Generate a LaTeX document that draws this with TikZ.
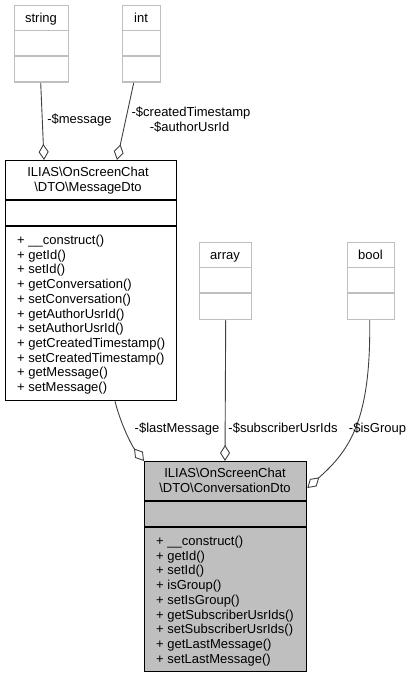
\documentclass[tikz,border=0pt]{standalone}
\usepackage{fontspec}
\setmainfont{Liberation Sans}
\usetikzlibrary{arrows.meta}
\definecolor{typegray}{HTML}{BFBFBF}
\definecolor{linkgray}{HTML}{404040}
\begin{document}
\begin{tikzpicture}[x=1pt,y=-1pt,
	every node/.style={font=\fontsize{13}{14.7}\selectfont, inner sep=0pt},
	typebox/.style={draw=typegray, line width=1.4pt, anchor=north west},
	classbox/.style={draw=black, line width=1.3pt, anchor=north west},
	typerule/.style={draw=typegray, line width=1.4pt},
	classrule/.style={draw=black, line width=1.3pt},
	member/.style={draw=linkgray, line width=0.9pt, -{Diamond[fill=white, length=16pt, width=10pt]}},
	title/.style={anchor=base},
	method/.style={anchor=base west}]
	\useasboundingbox (0,0) rectangle (412,676);

	\node[typebox, minimum width=54pt, minimum height=76.5pt] (string) at (14,5) {};
	\draw[typerule] (14,30.5) -- (68,30.5);
	\draw[typerule] (14,56) -- (68,56);
	\node[title] (stringT) at (41,22.5) {string};

	\node[typebox, minimum width=38pt, minimum height=76.5pt] (int) at (122,5) {};
	\draw[typerule] (122,30.5) -- (160,30.5);
	\draw[typerule] (122,56) -- (160,56);
	\node[title] (intT) at (141,22.5) {int};

	\node[typebox, minimum width=52pt, minimum height=76.5pt] (array) at (199,242) {};
	\draw[typerule] (199,267.5) -- (251,267.5);
	\draw[typerule] (199,293) -- (251,293);
	\node[title] (arrayT) at (225,259) {array};

	\node[typebox, minimum width=47pt, minimum height=76.5pt] (bool) at (347,242) {};
	\draw[typerule] (347,267.5) -- (394,267.5);
	\draw[typerule] (347,293) -- (394,293);
	\node[title] (boolT) at (370.5,259) {bool};

	\node[classbox, minimum width=171pt, minimum height=240pt] (msg) at (5,160) {};
	\draw[classrule] (5,200) -- (176,200);
	\draw[classrule] (5,226) -- (176,226);
	\node[title] (msgT1) at (88,176.5) {ILIAS\textbackslash OnScreenChat};
	\node[title] (msgT2) at (88,191.5) {\textbackslash DTO\textbackslash MessageDto};
	\foreach \m [count=\i from 0] in {\_\_construct, getId, setId, getConversation,
		setConversation, getAuthorUsrId, setAuthorUsrId, getCreatedTimestamp,
		setCreatedTimestamp, getMessage, setMessage}
		\node[method] (msgM\i) at (17,244.5+14.7*\i) {+ \m()};

	\node[classbox, fill=typegray, minimum width=162pt, minimum height=209.5pt] (conv) at (144,461) {};
	\draw[classrule] (144,501) -- (306,501);
	\draw[classrule] (144,527) -- (306,527);
	\node[title] (convT1) at (225,477.5) {ILIAS\textbackslash OnScreenChat};
	\node[title] (convT2) at (225,492.5) {\textbackslash DTO\textbackslash ConversationDto};
	\foreach \m [count=\i from 0] in {\_\_construct, getId, setId, isGroup, setIsGroup,
		getSubscriberUsrIds, setSubscriberUsrIds, getLastMessage, setLastMessage}
		\node[method] (convM\i) at (156,545.5+14.7*\i) {+ \m()};

	\draw[member] ([xshift=-1pt]string.south) -- ([xshift=39pt]msg.north west);
	\draw[member] ([xshift=-8pt]int.south) -- ([xshift=112pt]msg.north west);
	\draw[member] ([xshift=110pt]msg.south west) .. controls (121,425) and (132,446) .. (conv.north west);
	\draw[member] (array.south) -- ([xshift=81pt]conv.north west);
	\draw[member] ([xshift=-1.5pt]bool.south) .. controls (371,420) and (350,450) .. ([yshift=-27pt]conv.north east);

	\node[title] (lblMessage) at (79.5,124) {-\$message};
	\node[title] (lblCreated) at (191,116.5) {-\$createdTimestamp};
	\node[title] (lblAuthor) at (189.5,131.5) {-\$authorUsrId};
	\node[title] (lblLast) at (177,432.5) {-\$lastMessage};
	\node[title] (lblSubscriber) at (283,432.5) {-\$subscriberUsrIds};
	\node[title] (lblGroup) at (377.5,432.5) {-\$isGroup};
\end{tikzpicture}
\end{document}
